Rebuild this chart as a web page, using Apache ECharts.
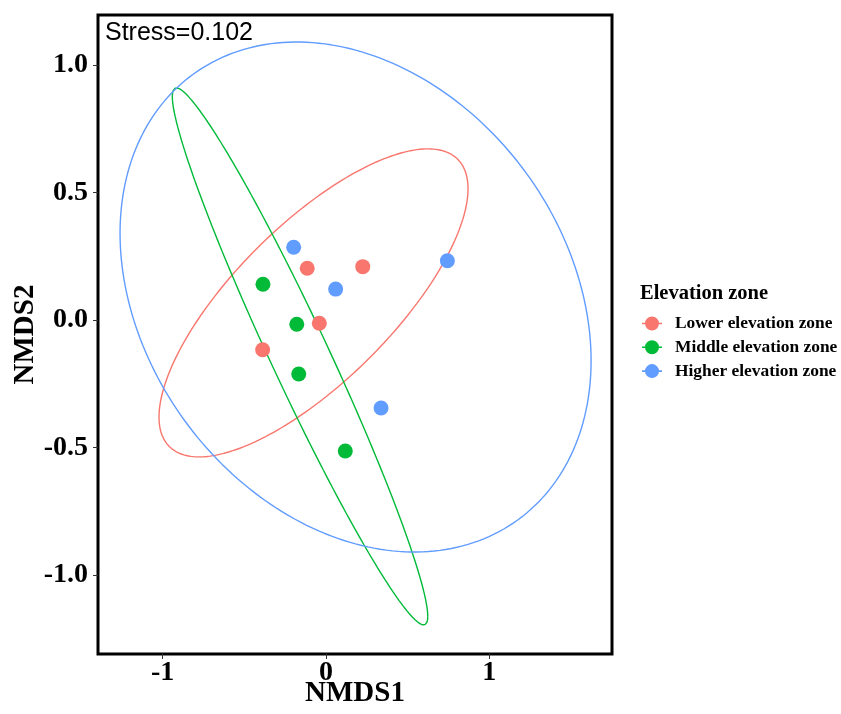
<!DOCTYPE html>
<html>
<head>
<meta charset="utf-8">
<script src="https://cdn.jsdelivr.net/npm/echarts@6/dist/echarts.min.js"></script>
<style>html,body{margin:0;padding:0;background:#fff;overflow:hidden}#c{width:841px;height:714px}</style>
</head>
<body>
<div id="c"></div>
<script>
// ---- data ----
const groups = ['Lower elevation zone', 'Middle elevation zone', 'Higher elevation zone'];
const colors = ['#F8766D', '#00BA38', '#619CFF'];
const lowerPts  = [[-0.115, 0.204], [0.225, 0.210], [-0.041, -0.012], [-0.388, -0.116]];
const middlePts = [[-0.386, 0.141], [-0.179, -0.016], [-0.167, -0.211], [0.118, -0.513]];
const higherPts = [[-0.198, 0.286], [0.059, 0.122], [0.743, 0.233], [0.337, -0.344]];
// ellipse parameters (data units): [centerX, centerY, halfWidthX, halfHeightY, correlation]
const lowerEllipse  = [-0.0765, 0.068, 0.946, 0.604, 0.741];
const middleEllipse = [-0.159, -0.142, 0.782, 1.053, -0.968];
const higherEllipse = [0.181, 0.091, 1.442, 1.000, -0.250];
const xTicks = [-1, 0, 1];
const yTicks = [-1, -0.5, 0, 0.5, 1];
const stressText = 'Stress=0.102';

function ellipsePath(p) {
  const [cx, cy, sx, sy, r] = p;
  const out = [];
  const n = 240;
  const k = Math.sqrt(1 - r * r);
  for (let i = 0; i <= n; i++) {
    const t = 2 * Math.PI * i / n;
    const c = Math.cos(t), s = Math.sin(t);
    out.push([cx + sx * c, cy + sy * (r * c + k * s)]);
  }
  return out;
}

const serif = '"Liberation Serif", "Times New Roman", serif';
const pts = [lowerPts, middlePts, higherPts];
const ells = [lowerEllipse, middleEllipse, higherEllipse];
const series = [];
ells.forEach((e, i) => {
  series.push({
    name: groups[i] + ' ellipse', type: 'line', data: ellipsePath(e),
    showSymbol: false, symbol: 'none', smooth: false, silent: true,
    lineStyle: { color: colors[i], width: 1.4 }, z: 2
  });
});
pts.forEach((p, i) => {
  series.push({
    name: groups[i], type: 'scatter', data: p, symbolSize: 15,
    itemStyle: { color: colors[i], opacity: 1 }, z: 3
  });
});

const iconPath = 'path://M0,6.2 L3.5,6.2 L3.5,7.8 L0,7.8 Z M16.5,6.2 L20,6.2 L20,7.8 L16.5,7.8 Z M17,7 A7,7 0 1 1 3,7 A7,7 0 1 1 17,7 Z';

const chart = echarts.init(document.getElementById('c'), null, { renderer: 'canvas', width: 841, height: 714 });
chart.setOption({
  animation: false,
  backgroundColor: '#fff',
  grid: { left: 98, top: 15, width: 514, height: 639, containLabel: false, outerBoundsMode: 'none',
          show: true, borderColor: '#000', borderWidth: 3, backgroundColor: 'transparent' },
  xAxis: {
    type: 'value', min: -1.396, max: 1.751,
    name: 'NMDS1', nameLocation: 'middle', nameGap: 25, nameMoveOverlap: false,
    nameTextStyle: { fontFamily: serif, fontWeight: 'bold', fontSize: 29, color: '#000' },
    axisLine: { show: false, onZero: false },
    splitLine: { show: false },
    axisTick: { show: true, customValues: xTicks, length: 5, lineStyle: { color: '#333', width: 1 } },
    axisLabel: { customValues: xTicks, margin: 5, fontFamily: serif, fontWeight: 'bold', fontSize: 28, color: '#000', formatter: v => String(v) }
  },
  yAxis: {
    type: 'value', min: -1.309, max: 1.197,
    name: 'NMDS2', nameLocation: 'middle', nameGap: 58, nameRotate: 90, nameMoveOverlap: false,
    nameTextStyle: { fontFamily: serif, fontWeight: 'bold', fontSize: 29, color: '#000' },
    axisLine: { show: false, onZero: false },
    splitLine: { show: false },
    axisTick: { show: true, customValues: yTicks, length: 5, lineStyle: { color: '#333', width: 1 } },
    axisLabel: { customValues: yTicks, margin: 10, fontFamily: serif, fontWeight: 'bold', fontSize: 28, color: '#000', formatter: v => v.toFixed(1) }
  },
  legend: {
    data: groups.map((g, i) => ({ name: g, icon: iconPath, itemStyle: { color: colors[i] } })),
    orient: 'vertical', left: 642, top: 315, padding: 0,
    itemWidth: 20, itemHeight: 14, itemGap: 6.8,
    textStyle: { fontFamily: serif, fontWeight: 'bold', fontSize: 17.4, color: '#000', lineHeight: 14, padding: [0, 0, 0, 8] }
  },
  graphic: [
    { type: 'text', left: 105, top: 21, style: { text: stressText, font: '25px "Liberation Sans", Arial, sans-serif', fill: '#000' } },
    { type: 'text', left: 640, top: 283, style: { text: 'Elevation zone', font: 'bold 20.5px "Liberation Serif", "Times New Roman", serif', fill: '#000' } }
  ],
  series: series
});
</script>
</body>
</html>
